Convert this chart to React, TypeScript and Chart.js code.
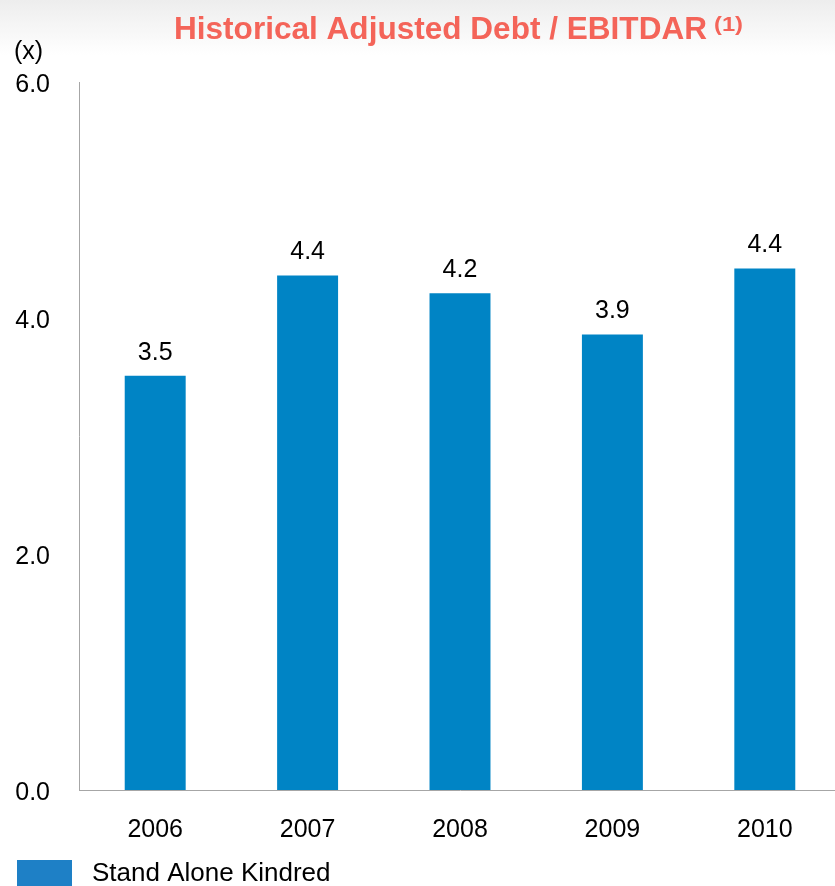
import React, { useEffect, useRef } from "react";
import { Chart, registerables } from "chart.js";

Chart.register(...registerables);

const categories = ["2006", "2007", "2008", "2009", "2010"];
const values = [3.51, 4.36, 4.21, 3.86, 4.42];
const valueLabels = ["3.5", "4.4", "4.2", "3.9", "4.4"];
const yTicks = [0, 2, 4, 6];
const seriesName = "Stand Alone Kindred";
const titleText = "Historical Adjusted Debt / EBITDAR";
const titleNote = "(1)";
const unitLabel = "(x)";

const FONT = "'Liberation Sans', Arial, sans-serif";
const BAR = "#0084C5";

function fitText(ctx: any, text: string, x: number, y: number, w: number) {
  const tw = ctx.measureText(text).width;
  ctx.save();
  ctx.translate(x, y);
  ctx.scale(w / tw, 1);
  ctx.fillText(text, 0, 0);
  ctx.restore();
}

const decor = {
  id: "decor",
  beforeDraw(chart: any) {
    const { ctx, width } = chart;
    ctx.save();
    const g = ctx.createLinearGradient(0, 0, 0, 55);
    g.addColorStop(0, "#EDEDED");
    g.addColorStop(1, "#FFFFFF");
    ctx.fillStyle = g;
    ctx.fillRect(0, 0, width, 55);
    ctx.restore();
  },
  afterDraw(chart: any) {
    const { ctx } = chart;
    ctx.save();
    // title
    ctx.fillStyle = "#F46459";
    ctx.textBaseline = "alphabetic";
    ctx.textAlign = "left";
    ctx.font = `bold 31px ${FONT}`;
    fitText(ctx, titleText, 174, 39, 707 - 174);
    ctx.font = `bold 21px ${FONT}`;
    fitText(ctx, titleNote, 714, 31, 29);
    // unit label
    ctx.fillStyle = "#000";
    ctx.font = `25px ${FONT}`;
    ctx.textAlign = "left";
    ctx.textBaseline = "middle";
    ctx.fillText(unitLabel, 14, 52);
    // value labels
    const meta = chart.getDatasetMeta(0);
    ctx.textAlign = "center";
    ctx.textBaseline = "middle";
    ctx.font = `25px ${FONT}`;
    meta.data.forEach((bar: any, i: number) => {
      ctx.fillText(valueLabels[i], bar.x, bar.y - 23);
    });
    // legend
    ctx.fillStyle = "#1E80C6";
    ctx.fillRect(17, 860, 55, 30);
    ctx.fillStyle = "#000";
    ctx.textAlign = "left";
    ctx.font = `26px ${FONT}`;
    ctx.fillText(seriesName, 92, 874);
    ctx.restore();
  },
};

export default function App() {
  const ref = useRef<HTMLCanvasElement>(null);
  useEffect(() => {
    if (!ref.current) return;
    const chart = new Chart(ref.current, {
      type: "bar",
      data: {
        labels: categories,
        datasets: [
          {
            label: seriesName,
            data: values,
            backgroundColor: BAR,
            barPercentage: 0.4,
            categoryPercentage: 1,
          },
        ],
      },
      options: {
        animation: false,
        responsive: false,
        maintainAspectRatio: false,
        layout: { padding: { top: 82, left: 0, right: 1, bottom: 0 } },
        plugins: {
          legend: { display: false },
          title: { display: false },
          tooltip: { enabled: false },
        },
        scales: {
          x: {
            offset: true,
            grid: { display: false, drawTicks: false },
            border: { display: true, color: "#A6A6A6", width: 1 },
            ticks: {
              color: "#000",
              font: { family: FONT, size: 25 },
              padding: 25,
              maxRotation: 0,
            },
            afterFit(scale: any) {
              scale.height = 96;
            },
          },
          y: {
            min: 0,
            max: 6,
            afterBuildTicks(scale: any) {
              scale.ticks = yTicks.map((v) => ({ value: v }));
            },
            grid: { display: false, drawTicks: false },
            border: { display: true, color: "#A6A6A6", width: 1 },
            ticks: {
              color: "#000",
              font: { family: FONT, size: 25 },
              padding: 29,
              labelOffset: 3,
              callback: (v: any) => Number(v).toFixed(1),
            },
            afterFit(scale: any) {
              scale.width = 79;
            },
          },
        },
      },
      plugins: [decor],
    });
    return () => chart.destroy();
  }, []);
  return (
    <div
      style={{
        position: "fixed",
        left: 0,
        top: 0,
        width: 835,
        height: 886,
        overflow: "hidden",
        background: "#fff",
      }}
    >
      <canvas ref={ref} width={842} height={886} style={{ display: "block" }} />
    </div>
  );
}
